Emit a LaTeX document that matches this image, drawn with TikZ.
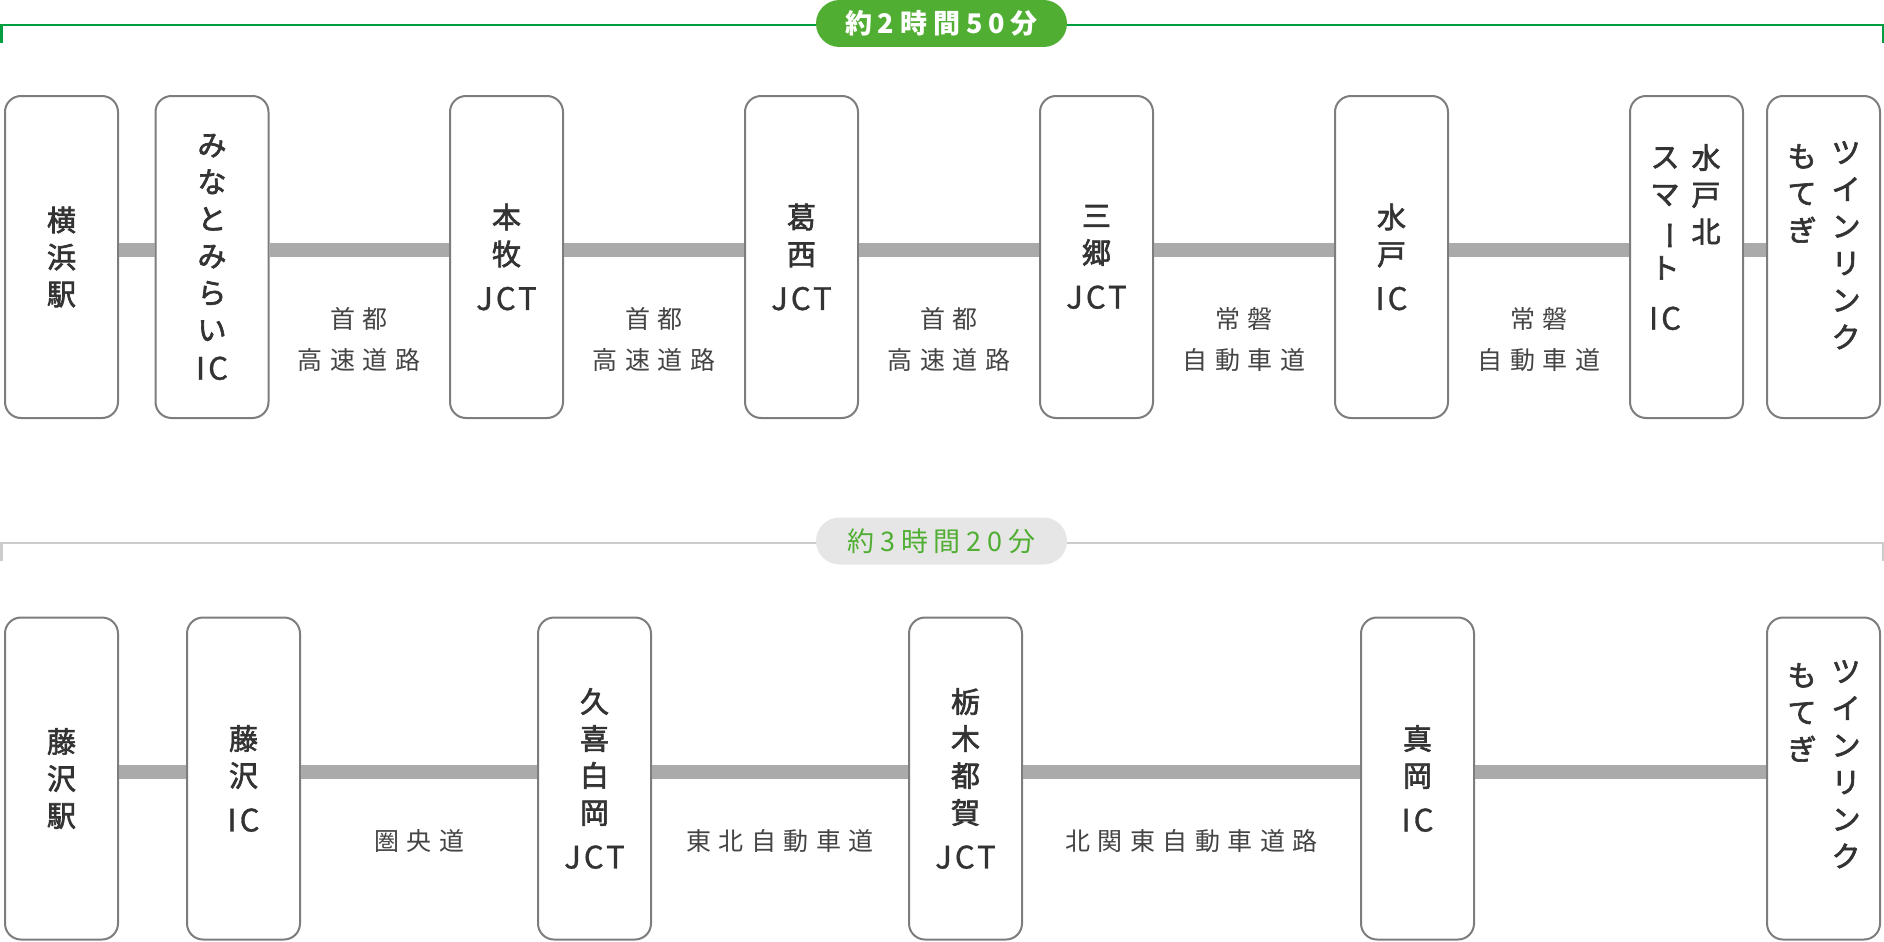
\documentclass[tikz,border=0pt]{standalone}
\usepackage{fontspec}
\usepackage{graphicx}
\usetikzlibrary{positioning}
\newfontfamily\jpbox[LetterSpace=12, FakeBold=2.2]{Noto Sans CJK JP}
\newfontfamily\jplat[LetterSpace=10, FakeBold=1]{Noto Sans CJK JP}
\newfontfamily\jproad[LetterSpace=30]{Noto Sans CJK JP}
\newfontfamily\jptime[LetterSpace=22]{Noto Sans CJK JP}
\definecolor{boxline}{RGB}{125,125,125}
\definecolor{boxtext}{RGB}{51,51,51}
\definecolor{barcol}{RGB}{170,170,170}
\definecolor{roadtext}{RGB}{68,68,68}
\definecolor{fastline}{RGB}{0,158,65}
\definecolor{fastpill}{RGB}{80,174,50}
\definecolor{slowline}{RGB}{204,204,204}
\definecolor{slowpill}{RGB}{230,230,230}
\newcommand{\lat}[1]{{\jplat\fontsize{31}{37}\selectfont #1}}
\newcommand{\vbar}{\rotatebox[origin=c]{-90}{ー}}
\tikzset{
stopbox/.style={draw=boxline, line width=2pt, rounded corners=16pt, fill=white,
  minimum width=113pt, minimum height=322pt, inner sep=0pt, align=center,
  text=boxtext, font=\jpbox\fontsize{29}{37}\selectfont},
colbox/.style={inner sep=0pt, align=center, anchor=north,
  text=boxtext, font=\jpbox\fontsize{29}{37}\selectfont},
roadlabel/.style={inner sep=0pt, align=center, text=roadtext,
  font=\jproad\fontsize{25}{41}\selectfont},
linkbar/.style={draw=barcol, line width=14pt},
pill/.style={rounded corners=23.5pt, minimum width=251pt, minimum height=47pt, inner sep=0pt},
}

\begin{document}
\begin{tikzpicture}[x=1pt, y=-1pt]
    \useasboundingbox (0,0) rectangle (1884,942);

    %time bracket, top
    \coordinate (fl0) at (1.25,43);
    \coordinate (fl1) at (1.25,25);
    \coordinate (fr1) at (1882.75,25);
    \coordinate (fr0) at (1882.75,43);
    \draw[fastline, line width=2.5pt] (fl0)--(fl1)--(fr1)--(fr0);
    \node[pill, fill=fastpill, text=white, font=\jptime\bfseries\fontsize{27}{27}\selectfont]
        (fast) at (941.5,23.5) {約2時間50分};

    %time bracket, bottom
    \coordinate (sl0) at (1.25,561);
    \coordinate (sl1) at (1.25,543);
    \coordinate (sr1) at (1882.75,543);
    \coordinate (sr0) at (1882.75,561);
    \draw[slowline, line width=2.5pt] (sl0)--(sl1)--(sr1)--(sr0);
    \node[pill, fill=slowpill, text=fastpill, font=\jptime\fontsize{27}{27}\selectfont]
        (slow) at (941.5,541) {約3時間20分};

    %stops, top row
    \node[stopbox] (t1) at (61.5,257)   {横\\浜\\駅};
    \node[stopbox] (t2) at (212,257)    {み\\な\\と\\み\\ら\\い\\[2pt]\lat{IC}};
    \node[stopbox] (t3) at (506.5,257)  {本\\牧\\[8pt]\lat{JCT}};
    \node[stopbox] (t4) at (801.5,257)  {葛\\西\\[8pt]\lat{JCT}};
    \node[stopbox] (t5) at (1096.5,257) {三\\郷\\[8pt]\lat{JCT}};
    \node[stopbox] (t6) at (1391.5,257) {水\\戸\\[8pt]\lat{IC}};
    \node[stopbox] (t7) at (1686.5,257) {};
    \node[stopbox] (t8) at (1823.5,257) {};
    \node[colbox] (t7a) at (1706,144) {水\\戸\\北};
    \node[colbox] (t7b) at (1665,147) {ス\\マ\\\vbar\\ト\\[14pt]\lat{IC}};
    \node[colbox] (t8a) at (1846,141) {ツ\\イ\\ン\\リ\\ン\\ク};
    \node[colbox] (t8b) at (1802,144) {も\\て\\ぎ};

    %stops, bottom row
    \node[stopbox] (b1) at (61.5,778.5)   {藤\\沢\\駅};
    \node[stopbox] (b2) at (243.5,778.5)  {藤\\沢\\[8pt]\lat{IC}};
    \node[stopbox] (b3) at (594.5,778.5)  {久\\喜\\白\\岡\\[8pt]\lat{JCT}};
    \node[stopbox] (b4) at (965.5,778.5)  {栃\\木\\都\\賀\\[8pt]\lat{JCT}};
    \node[stopbox] (b5) at (1417.5,778.5) {真\\岡\\[8pt]\lat{IC}};
    \node[stopbox] (b6) at (1823.5,778.5) {};
    \node[colbox] (b6a) at (1846,660) {ツ\\イ\\ン\\リ\\ン\\ク};
    \node[colbox] (b6b) at (1802,663) {も\\て\\ぎ};

    %bars, top row
    \draw[linkbar] ([yshift=7pt]t1.east)--([yshift=7pt]t2.west);
    \draw[linkbar] ([yshift=7pt]t2.east)--([yshift=7pt]t3.west);
    \draw[linkbar] ([yshift=7pt]t3.east)--([yshift=7pt]t4.west);
    \draw[linkbar] ([yshift=7pt]t4.east)--([yshift=7pt]t5.west);
    \draw[linkbar] ([yshift=7pt]t5.east)--([yshift=7pt]t6.west);
    \draw[linkbar] ([yshift=7pt]t6.east)--([yshift=7pt]t7.west);
    \draw[linkbar] ([yshift=7pt]t7.east)--([yshift=7pt]t8.west);

    %bars, bottom row
    \draw[linkbar] ([yshift=7pt]b1.east)--([yshift=7pt]b2.west);
    \draw[linkbar] ([yshift=7pt]b2.east)--([yshift=7pt]b3.west);
    \draw[linkbar] ([yshift=7pt]b3.east)--([yshift=7pt]b4.west);
    \draw[linkbar] ([yshift=7pt]b4.east)--([yshift=7pt]b5.west);
    \draw[linkbar] ([yshift=7pt]b5.east)--([yshift=7pt]b6.west);

    %road names, top row
    \node[roadlabel] (r1) at (359,339.5)  {首都\\高速道路};
    \node[roadlabel] (r2) at (654,339.5)  {首都\\高速道路};
    \node[roadlabel] (r3) at (949,339.5)  {首都\\高速道路};
    \node[roadlabel] (r4) at (1244,339.5) {常磐\\自動車道};
    \node[roadlabel] (r5) at (1539,339.5) {常磐\\自動車道};

    %road names, bottom row
    \node[roadlabel] (r6) at (419,841)    {圏央道};
    \node[roadlabel] (r7) at (780,841)    {東北自動車道};
    \node[roadlabel] (r8) at (1191.5,841) {北関東自動車道路};
\end{tikzpicture}
\end{document}
